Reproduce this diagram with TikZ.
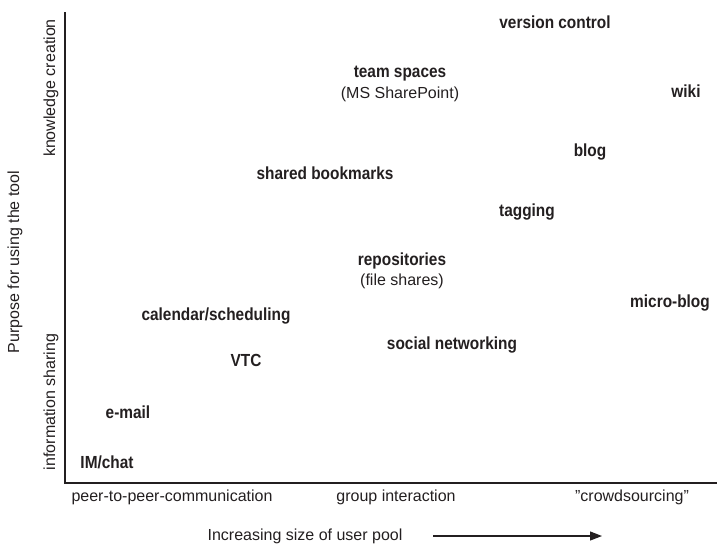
\documentclass[tikz,border=0pt]{standalone}
\usepackage{fontspec}
\setmainfont{Liberation Sans}[BoldFeatures={FakeStretch=0.88}]
\usepackage{tikz}
\usetikzlibrary{arrows.meta}
\definecolor{InkColor}{RGB}{35,31,32}
\tikzstyle{axis} = [line width=2.2pt, InkColor]
\tikzstyle{growth} = [line width=1.2pt, InkColor, -{Triangle[length=12pt, width=9pt]}]
\tikzstyle{tool} = [font=\fontsize{17.5}{19}\selectfont\bfseries, text=InkColor, inner sep=0pt]
\tikzstyle{note} = [font=\fontsize{16}{18}\selectfont, text=InkColor, inner sep=0pt]

\begin{document}
\begin{tikzpicture}[x=1pt, y=-1pt]
    \useasboundingbox (0,0) rectangle (717,547);

    % Axes
    \coordinate (ytop) at (65,12);
    \coordinate (origin) at (65,483);
    \coordinate (xend) at (717,483);
    \draw[axis] (ytop) -- (origin) -- (xend);

    % Vertical axis labels
    \node[note, rotate=90] (purpose) at (15,262) {Purpose for using the tool};
    \node[note, rotate=90] (knowledge) at (51,88) {knowledge creation};
    \node[note, rotate=90] (sharing) at (51,402) {information sharing};

    % Horizontal axis labels
    \node[note] (peer) at (172,497) {peer-to-peer-communication};
    \node[note] (group) at (396,497) {group interaction};
    \node[note] (crowd) at (632,497) {”crowdsourcing”};
    \node[note] (pool) at (305,536) {Increasing size of user pool};
    \coordinate (poolstart) at (433,536);
    \coordinate (poolend) at (602,536);
    \draw[growth] (poolstart) -- (poolend);

    % Tools
    \node[tool] (version) at (555,22) {version control};
    \node[tool] (team) at (400,74) {team spaces};
    \node[note] (sharepoint) at (400,94) {(MS SharePoint)};
    \node[tool] (wiki) at (686,91) {wiki};
    \node[tool] (blog) at (590,152) {blog};
    \node[tool] (bookmarks) at (325,173) {shared bookmarks};
    \node[tool] (tagging) at (527,212) {tagging};
    \node[tool] (repositories) at (402,261) {repositories};
    \node[note] (fileshares) at (402,281) {(file shares)};
    \node[tool] (microblog) at (670,303) {micro-blog};
    \node[tool] (calendar) at (216,316) {calendar/scheduling};
    \node[tool] (social) at (452,345) {social networking};
    \node[tool] (vtc) at (246,360) {VTC};
    \node[tool] (email) at (128,412) {e-mail};
    \node[tool] (chat) at (107,462) {IM/chat};
\end{tikzpicture}
\end{document}
